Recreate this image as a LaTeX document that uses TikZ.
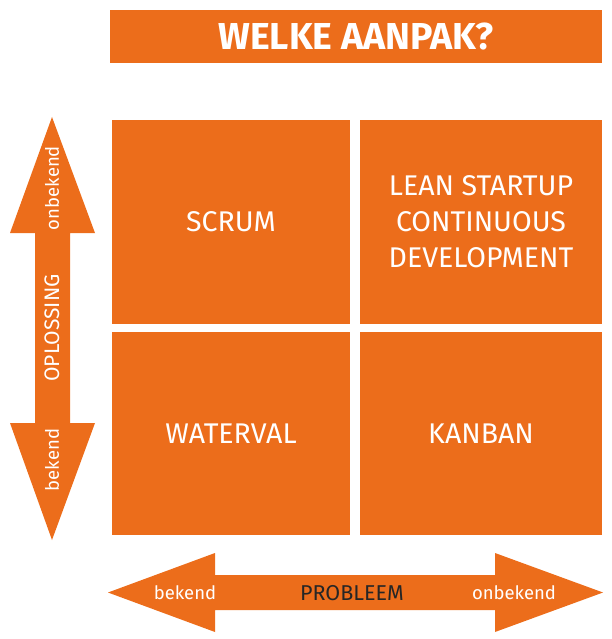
\documentclass[tikz,border=0pt]{standalone}
\usepackage{fontspec}
\setmainfont{Fira Sans}
\usetikzlibrary{positioning}
\definecolor{oranje}{HTML}{EC6D1B}
\tikzset{
	vak/.style={fill=oranje, text=white, minimum width=238pt, minimum height=203pt, inner sep=0pt, align=center, font=\fontsize{28.5}{36}\selectfont},
	pijl/.style={fill=oranje},
	lbl/.style={text=white, font=\fontsize{18.5}{20}\selectfont, inner sep=0pt},
}
\begin{document}
\begin{tikzpicture}[x=1pt, y=-1pt]
	\useasboundingbox (0,0) rectangle (612,639);
	% Title
	\node[fill=oranje, text=white, minimum width=492pt, minimum height=53pt, inner sep=0pt, font=\fontsize{37.5}{40}\selectfont\bfseries] (titel) at (356,36.5) {WELKE AANPAK?};
	% Quadrants
	\node[vak] (scrum) at (231,222) {SCRUM};
	\node[vak, minimum width=242pt] (lean) at (481,222) {LEAN STARTUP\\CONTINUOUS\\DEVELOPMENT};
	\node[vak] (waterval) at (231,433.5) {WATERVAL};
	\node[vak, minimum width=242pt] (kanban) at (481,433.5) {KANBAN};
	% Vertical arrow
	\fill[pijl] (52,117) -- (95,233) -- (70,233) -- (70,423) -- (95,423) -- (52,540) -- (10,423) -- (35,423) -- (35,233) -- (10,233) -- cycle;
	\node[lbl, rotate=90] (v-onbekend) at (52,188) {onbekend};
	\node[lbl, rotate=90, font=\fontsize{21}{22}\selectfont] (oplossing) at (52,328) {OPLOSSING};
	\node[lbl, rotate=90] (v-bekend) at (52,460) {bekend};
	% Horizontal arrow
	\fill[pijl] (108,592.5) -- (215,553) -- (215,575) -- (495,575) -- (495,553) -- (603,592.5) -- (495,632) -- (495,610) -- (215,610) -- (215,632) -- cycle;
	\node[lbl] (h-bekend) at (185,593) {bekend};
	\node[lbl, text=black!85, font=\fontsize{21.5}{22}\selectfont] (probleem) at (352,593) {PROBLEEM};
	\node[lbl] (h-onbekend) at (514,593) {onbekend};
\end{tikzpicture}
\end{document}
